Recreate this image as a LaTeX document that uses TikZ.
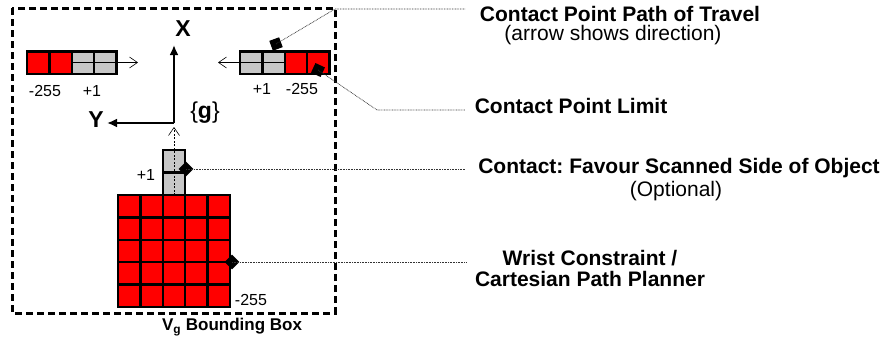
\documentclass[tikz,border=0pt]{standalone}
\usepackage{fontspec}
\setmainfont{Liberation Sans}
\usepackage{tikz}
\usetikzlibrary{arrows.meta,positioning}
\frenchspacing

\begin{document}
\begin{tikzpicture}
[
                  x =  1pt,
                  y = -1pt,
      cell/.style = { draw=black, line width=2.4pt, minimum size=22.4pt, inner sep=0pt, outer sep=0pt },
   redcell/.style = { cell, fill=red },
  graycell/.style = { cell, fill=black!22 },
    marker/.style = { draw=none, fill=black, rectangle, minimum size=10.5pt, inner sep=0pt },
    leader/.style = { draw=black!80, line width=0.7pt, dash pattern=on 0.8pt off 0.8pt },
      axis/.style = { line width=2pt, -{Latex[length=10pt,width=9pt]} },
    travel/.style = { line width=0.6pt, -{Straight Barb[length=8pt,width=11pt]} },
  boundary/.style = { line width=3pt, dash pattern=on 7pt off 4pt },
     title/.style = { draw=none, fill=none, inner sep=0pt, font=\fontsize{21}{24}\selectfont\bfseries },
      note/.style = { draw=none, fill=none, inner sep=0pt, font=\fontsize{21}{24}\selectfont },
     small/.style = { draw=none, fill=none, inner sep=0pt, font=\fontsize{16}{18}\selectfont },
 axislabel/.style = { draw=none, fill=none, inner sep=0pt, font=\fontsize{23}{26}\selectfont\bfseries }
]

    \useasboundingbox (0,0) rectangle (888,343);

    \draw[boundary] (12,8) rectangle (335,313);
    \coordinate (BoxCorner) at (335,9);

    \node (LeftA)  at (38.2, 62.5)  [redcell]  {};
    \node (LeftB)  at (60.6, 62.5)  [redcell]  {};
    \node (LeftC)  at (83.0, 62.5)  [graycell] {};
    \node (LeftD)  at (105.4,62.5)  [graycell] {};
    \coordinate (LeftTip) at (138, 62.5);

    \node (RightA) at (251.2,62.5)  [graycell] {};
    \node (RightB) at (273.6,62.5)  [graycell] {};
    \node (RightC) at (296.0,62.5)  [redcell]  {};
    \node (RightD) at (318.4,62.5)  [redcell]  {};
    \coordinate (RightTip) at (218, 62.5);

    \foreach \i in {0,...,4}
      \foreach \j in {0,...,4}
        \node (Grid\i\j) at (129.2+22.4*\i, 206.2+22.4*\j) [redcell] {};

    \node (ColLow)  at (174, 183.8) [graycell] {};
    \node (ColHigh) at (174, 161.4) [graycell] {};
    \coordinate (ColTip) at (174, 127);

    \draw[travel] (LeftB.east) -> (LeftTip);
    \draw[travel] (RightB.east) -> (RightTip);
    \draw[travel, dash pattern=on 2pt off 1.5pt] (ColLow.south) -> (ColTip);

    \coordinate (Origin) at (174,123);
    \coordinate (XTip)   at (174,45);
    \coordinate (YTip)   at (107,123);
    \draw[axis] (Origin) -- (XTip);
    \draw[axis] (Origin) -- (YTip);

    \node (XLabel) at (183, 29)  [axislabel] {X};
    \node (YLabel) at (96, 120)  [axislabel] {Y};
    \node (GLabel) at (205, 113) [axislabel] {\mdseries\{\bfseries g\mdseries\}};

    \node (LeftLow)   at (45, 91)   [small] {-255};
    \node (LeftHigh)  at (92, 91)   [small] {+1};
    \node (RightHigh) at (262, 89)  [small] {+1};
    \node (RightLow)  at (302, 89)  [small] {-255};
    \node (ColPlus)   at (146, 175) [small] {+1};
    \node (GridLow)   at (251, 300) [small] {-255};

    \node (TravelMark) at (276, 44)  [marker, rotate=20]  {};
    \node (LimitMark)  at (318, 70)  [marker, rotate=-25] {};
    \node (FavourMark) at (186, 169) [marker, rotate=45]  {};
    \node (WristMark)  at (232, 262) [marker, rotate=45]  {};

    \coordinate (TravelEnd) at (465, 9);
    \coordinate (LimitBend) at (377, 110);
    \coordinate (LimitEnd)  at (465, 110);
    \coordinate (FavourEnd) at (465, 169);
    \coordinate (WristEnd)  at (467, 262);

    \draw[leader] (TravelMark.center) -- (BoxCorner) -- (TravelEnd);
    \draw[leader] (LimitMark.center) -- (LimitBend) -- (LimitEnd);
    \draw[leader] (FavourMark.center) -- (FavourEnd);
    \draw[leader] (WristMark.center) -- (WristEnd);

    \node (TravelLabel) at (620, 14)  [title] {Contact Point Path of Travel};
    \node (TravelNote)  at (613, 35)  [note]  {(arrow shows direction)};
    \node (LimitLabel)  at (571, 106) [title] {Contact Point Limit};
    \node (FavourLabel) at (679, 168) [title] {Contact: Favour Scanned Side of Object};
    \node (FavourNote)  at (676, 191) [note]  {(Optional)};
    \node (WristLabel)  at (590, 258) [title] {Wrist Constraint /};
    \node (WristNote)   at (590, 279) [title] {Cartesian Path Planner};

    \node (BoxLabel) at (232, 327) [title, font=\fontsize{17}{20}\selectfont\bfseries] {V\textsubscript{g} Bounding Box};

\end{tikzpicture}
\end{document}
